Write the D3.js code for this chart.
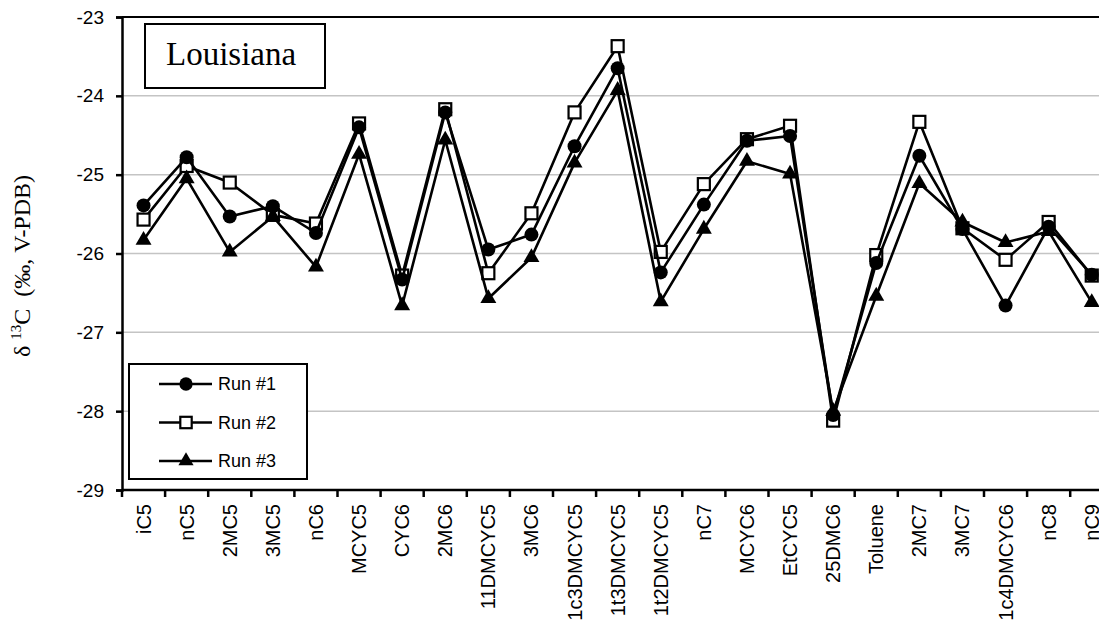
<!DOCTYPE html>
<html>
<head>
<meta charset="utf-8">
<script src="https://cdn.jsdelivr.net/npm/d3@7/dist/d3.min.js"></script>
<style>
  html, body { margin: 0; padding: 0; background: #fff; }
  svg { display: block; }
</style>
</head>
<body>
<svg id="chart" width="1099" height="625"></svg>
<script>
// Compound names along the x axis
const compounds = ["iC5", "nC5", "2MC5", "3MC5", "nC6", "MCYC5", "CYC6", "2MC6", "11DMCYC5", "3MC6",
  "1c3DMCYC5", "1t3DMCYC5", "1t2DMCYC5", "nC7", "MCYC6", "EtCYC5", "25DMC6", "Toluene", "2MC7",
  "3MC7", "1c4DMCYC6", "nC8", "nC9"];

// δ13C values (‰, V-PDB) for each run
const run1 = [-25.39, -24.78, -25.53, -25.40, -25.74, -24.40, -26.33, -24.21, -25.95, -25.76,
  -24.64, -23.65, -26.24, -25.38, -24.57, -24.51, -28.05, -26.12, -24.76, -25.69, -26.66, -25.66, -26.27];
const run2 = [-25.57, -24.89, -25.10, -25.51, -25.62, -24.35, -26.28, -24.17, -26.25, -25.49,
  -24.21, -23.37, -25.98, -25.12, -24.55, -24.38, -28.12, -26.02, -24.33, -25.68, -26.08, -25.60, -26.28];
const run3 = [-25.83, -25.05, -25.98, -25.53, -26.17, -24.74, -26.66, -24.56, -26.57, -26.05,
  -24.85, -23.93, -26.61, -25.69, -24.83, -24.99, -28.00, -26.54, -25.11, -25.60, -25.86, -25.72, -26.62];

const yTicks = [-29, -28, -27, -26, -25, -24, -23];
const seriesNames = ["Run #1", "Run #2", "Run #3"];

const svg = d3.select("#chart");
const plot = { left: 122, top: 17, bottom: 490, step: 43.1 };
plot.right = plot.left + plot.step * compounds.length;

const sans = "'Liberation Sans', Arial, sans-serif";
const serif = "'Liberation Serif', 'Times New Roman', serif";

const x = d3.scaleBand().domain(compounds).range([plot.left, plot.right]).padding(0);
const y = d3.scaleLinear().domain([-29, -23]).range([plot.bottom, plot.top]);
const cx = d => x(d) + x.bandwidth() / 2;

// horizontal gridlines
svg.append("g")
  .selectAll("line")
  .data(yTicks.filter(t => t > -29 && t < -23))
  .join("line")
  .attr("x1", plot.left).attr("x2", plot.right)
  .attr("y1", d => y(d)).attr("y2", d => y(d))
  .attr("stroke", "#c4c4c4").attr("stroke-width", 1.5);

// plot frame (top edge; right side runs past the page)
svg.append("line")
  .attr("x1", plot.left).attr("x2", plot.right)
  .attr("y1", plot.top).attr("y2", plot.top)
  .attr("stroke", "#000").attr("stroke-width", 2);

// y axis
const yAxis = svg.append("g")
  .attr("transform", `translate(${plot.left},0)`)
  .call(d3.axisLeft(y).tickValues(yTicks).tickFormat(d3.format("d")).tickSize(6).tickPadding(12));
yAxis.select(".domain").attr("stroke", "#000").attr("stroke-width", 2.5);
yAxis.selectAll(".tick line").attr("stroke", "#000").attr("stroke-width", 2.5);
yAxis.selectAll(".tick text")
  .attr("font-family", sans).attr("font-size", 19).attr("fill", "#000")
  .text(d => d < 0 ? "-" + Math.abs(d) : d);

// x axis with ticks on category boundaries
const xAxis = svg.append("g").attr("transform", `translate(0,${plot.bottom})`);
xAxis.append("line")
  .attr("x1", plot.left).attr("x2", plot.right)
  .attr("stroke", "#000").attr("stroke-width", 2.5);
xAxis.selectAll("line.tk")
  .data(compounds)
  .join("line").attr("class", "tk")
  .attr("x1", d => x(d)).attr("x2", d => x(d))
  .attr("y1", 0).attr("y2", 7)
  .attr("stroke", "#000").attr("stroke-width", 2.5);
xAxis.selectAll("text")
  .data(compounds)
  .join("text")
  .attr("transform", d => `translate(${cx(d)},14) rotate(-90)`)
  .attr("text-anchor", "end")
  .attr("dy", "0.35em")
  .attr("font-family", sans).attr("font-size", 20)
  .text(d => d);

// y axis title
const yTitle = svg.append("text")
  .attr("transform", `translate(30,266) rotate(-90)`)
  .attr("text-anchor", "middle")
  .attr("font-family", serif).attr("font-size", 24);
yTitle.append("tspan").text("δ\u00A0");
yTitle.append("tspan").attr("font-size", 15).attr("dy", -9).text("13");
yTitle.append("tspan").attr("dy", 9).text("C\u00A0\u00A0(‰,\u00A0V-PDB)");

// marker drawing per series
const markers = [
  (g, px, py, s) => g.append("circle").attr("cx", px).attr("cy", py).attr("r", 7 * s).attr("fill", "#000"),
  (g, px, py, s) => g.append("rect").attr("x", px - 6 * s).attr("y", py - 6 * s)
      .attr("width", 12 * s).attr("height", 12 * s)
      .attr("fill", "#fff").attr("stroke", "#000").attr("stroke-width", 2.2),
  (g, px, py, s) => g.append("path")
      .attr("d", d3.symbol(d3.symbolTriangle, 110 * s * s)())
      .attr("transform", `translate(${px},${py})`).attr("fill", "#000")
];

const series = [run1, run2, run3];
const line = d3.line().x((d, i) => cx(compounds[i])).y(d => y(d));

const dataLayer = svg.append("g");
[1, 0, 2].forEach(k => {
  const g = dataLayer.append("g");
  g.append("path").datum(series[k]).attr("d", line)
    .attr("fill", "none").attr("stroke", "#000").attr("stroke-width", 2.6)
    .attr("stroke-linejoin", "round");
  series[k].forEach((v, i) => markers[k](g, cx(compounds[i]), y(v), 1));
});

// title box
svg.append("rect").attr("x", 145).attr("y", 24).attr("width", 180).attr("height", 64)
  .attr("fill", "#fff").attr("stroke", "#000").attr("stroke-width", 2);
svg.append("text").attr("x", 166).attr("y", 65)
  .attr("font-family", serif).attr("font-size", 33).text("Louisiana");

// legend
const lg = svg.append("g");
lg.append("rect").attr("x", 129).attr("y", 364).attr("width", 178).attr("height", 115)
  .attr("fill", "#fff").attr("stroke", "#000").attr("stroke-width", 2);
seriesNames.forEach((name, k) => {
  const ly = 384 + k * 38.5;
  lg.append("line").attr("x1", 159).attr("x2", 212).attr("y1", ly).attr("y2", ly)
    .attr("stroke", "#000").attr("stroke-width", 2.4);
  markers[k](lg, 186, ly, 0.95);
  lg.append("text").attr("x", 218).attr("y", ly).attr("dy", "0.35em")
    .attr("font-family", sans).attr("font-size", 18).text(name);
});
</script>
</body>
</html>
